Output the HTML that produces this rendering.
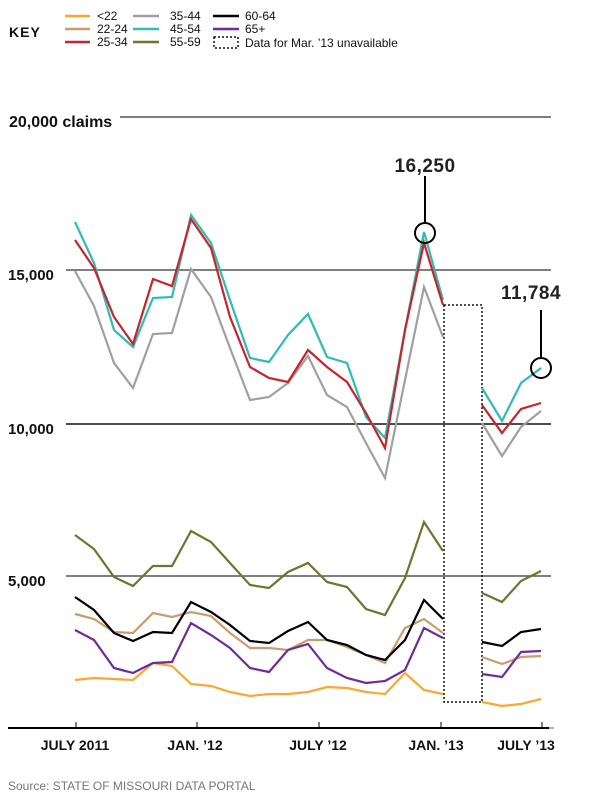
<!DOCTYPE html>
<html><head><meta charset="utf-8"><style>
html,body{margin:0;padding:0;background:#fff;}
svg{display:block;font-family:"Liberation Sans",Arial,sans-serif;}
</style></head><body>
<svg width="600" height="810" viewBox="0 0 600 810" xmlns="http://www.w3.org/2000/svg">
<text x="9" y="37" font-size="14" font-weight="bold" letter-spacing="1" fill="#111">KEY</text>
<g stroke-width="2.5" fill="none">
<line x1="65" y1="16" x2="90" y2="16" stroke="#f9a832"/>
<line x1="65" y1="29" x2="90" y2="29" stroke="#c89d6e"/>
<line x1="65" y1="42" x2="90" y2="42" stroke="#c8242c"/>
<line x1="133" y1="16" x2="159" y2="16" stroke="#a0a0a0"/>
<line x1="133" y1="29" x2="159" y2="29" stroke="#2fbcb2"/>
<line x1="133" y1="42" x2="159" y2="42" stroke="#6f7530"/>
<line x1="213" y1="16" x2="239" y2="16" stroke="#000"/>
<line x1="213" y1="29" x2="239" y2="29" stroke="#6a2d9a"/>
<rect x="214" y="37" width="24" height="11" stroke="#111" stroke-width="1.5" stroke-dasharray="2,2"/>
</g>
<g font-size="12" fill="#111">
<text x="97" y="20">&lt;22</text><text x="97" y="33">22-24</text><text x="97" y="46">25-34</text>
<text x="170" y="20">35-44</text><text x="170" y="33">45-54</text><text x="170" y="46">55-59</text>
<text x="245" y="20">60-64</text><text x="245" y="33">65+</text><text x="245" y="47">Data for Mar. ’13 unavailable</text>
</g>
<g stroke="#555" stroke-width="1.5">
<line x1="120" y1="117" x2="551" y2="117"/>
<line x1="66" y1="270" x2="551" y2="270"/>
<line x1="66" y1="424" x2="551" y2="424" stroke="#111"/>
<line x1="66" y1="576" x2="551" y2="576"/>
</g>
<g font-size="16" font-weight="bold" fill="#111">
<text x="9" y="127">20,000 claims</text>
<text x="8" y="280" font-size="15">15,000</text>
<text x="8" y="434" font-size="15">10,000</text>
<text x="8" y="586" font-size="15">5,000</text>
</g>
<rect x="444" y="305" width="38" height="397" fill="none" stroke="#111" stroke-width="1.5" stroke-dasharray="2,2"/>
<g fill="none" stroke-width="2.2" stroke-linejoin="miter">
<g stroke="#f9a832">
<polyline points="75,680 94,678 114,679 133,680 153,663 172,666 191,684 211,686 230,692 250,696 269,694 288,694 308,692 327,687 347,688 366,692 385,694 405,673 424,690 443,694"/>
<polyline points="482,702 502,706 521,704 541,699"/>
</g>
<g stroke="#c89d6e">
<polyline points="75,614 94,619 114,632 133,633 153,613 172,617 191,612 211,616 230,633 250,648 269,648 288,650 308,640 327,640 347,647 366,655 385,663 405,628 424,619 443,633"/>
<polyline points="482,657 502,664 521,657 541,656"/>
</g>
<g stroke="#6a2d9a">
<polyline points="75,630 94,640 114,668 133,673 153,663 172,662 191,623 211,635 230,648 250,668 269,672 288,650 308,644 327,668 347,678 366,683 385,681 405,670 424,628 443,638"/>
<polyline points="482,674 502,677 521,652 541,651"/>
</g>
<g stroke="#000">
<polyline points="75,597 94,610 114,633 133,641 153,632 172,633 191,602 211,612 230,625 250,641 269,643 288,631 308,622 327,640 347,645 366,655 385,660 405,640 424,600 443,619"/>
<polyline points="482,642 502,646 521,632 541,629"/>
</g>
<g stroke="#6f7530">
<polyline points="75,535 94,549 114,577 133,586 153,566 172,566 191,531 211,542 230,563 250,585 269,588 288,572 308,563 327,582 347,587 366,609 385,615 405,578 424,522 443,551"/>
<polyline points="482,593 502,602 521,581 541,571"/>
</g>
<g stroke="#a0a0a0">
<polyline points="75,271 94,306 114,363 133,388 153,334 172,333 191,269 211,297 230,348 250,400 269,397 288,383 308,356 327,395 347,407 366,443 385,478 405,380 424,287 443,337"/>
<polyline points="482,423 502,456 521,427 541,411"/>
</g>
<g stroke="#2fbcb2">
<polyline points="75,222 94,263 114,330 133,347 153,298 172,297 191,215 211,243 230,300 250,358 269,362 288,335 308,314 327,357 347,363 366,417 385,438 405,330 424,232 443,300"/>
<polyline points="482,388 502,421 521,383 541,368"/>
</g>
<g stroke="#c8242c">
<polyline points="75,240 94,268 114,317 133,344 153,279 172,286 191,219 211,248 230,317 250,367 269,378 288,382 308,350 327,367 347,382 366,413 385,448 405,330 424,243 443,305"/>
<polyline points="482,405 502,433 521,409 541,403"/>
</g>
</g>
<g stroke="#000" stroke-width="2" fill="none">
<line x1="425" y1="176" x2="425" y2="223"/>
<circle cx="425" cy="233" r="10"/>
<line x1="541" y1="310" x2="541" y2="358"/>
<circle cx="541" cy="368" r="10"/>
</g>
<g font-size="19" font-weight="bold" fill="#222" text-anchor="middle" letter-spacing="0.5">
<text x="425" y="172">16,250</text>
<text x="531" y="299">11,784</text>
</g>
<line x1="8" y1="728" x2="549" y2="728" stroke="#000" stroke-width="2"/>
<line x1="549" y1="728" x2="554" y2="728" stroke="#999" stroke-width="1.5"/>
<g stroke="#000" stroke-width="1">
<line x1="76" y1="722" x2="76" y2="728"/><line x1="197" y1="722" x2="197" y2="728"/>
<line x1="319" y1="722" x2="319" y2="728"/><line x1="441" y1="722" x2="441" y2="728"/>
<line x1="542" y1="722" x2="542" y2="728"/>
</g>
<g font-size="14" font-weight="bold" fill="#111" text-anchor="middle">
<text x="75" y="750">JULY 2011</text>
<text x="195" y="750">JAN. ’12</text>
<text x="318" y="750">JULY ’12</text>
<text x="436" y="750">JAN. ’13</text>
<text x="526" y="750">JULY ’13</text>
</g>
<text x="8" y="790" font-size="12" fill="#777">Source: STATE OF MISSOURI DATA PORTAL</text>
</svg>
</body></html>
